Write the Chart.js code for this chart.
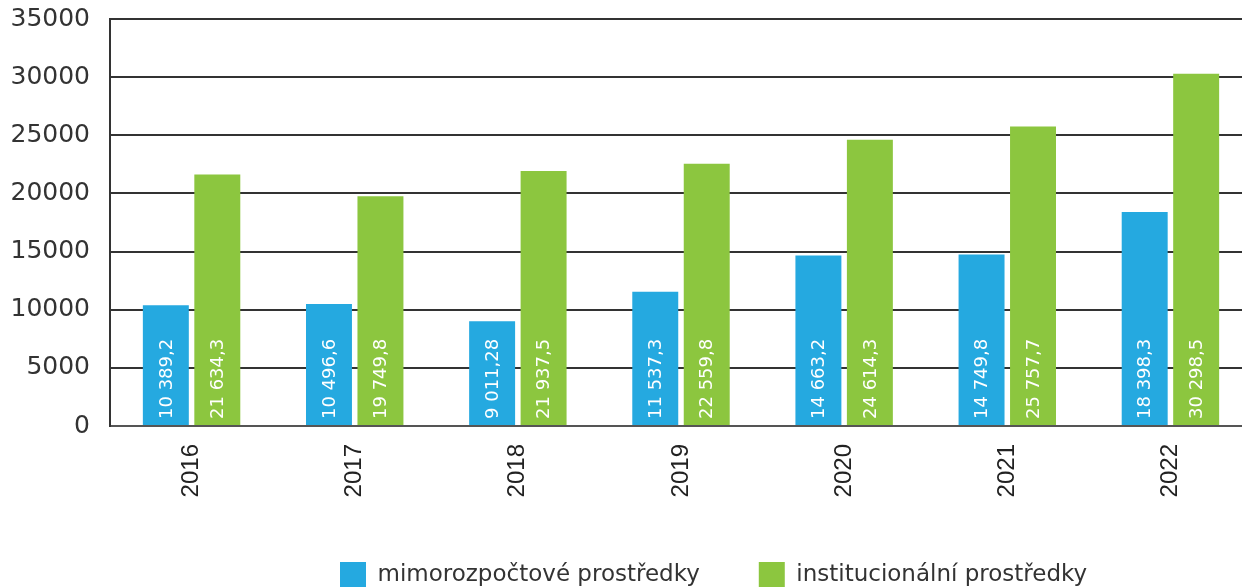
<!DOCTYPE html>
<html lang="cs">
<head>
    <meta charset="UTF-8">
    <title>Prostředky 2016–2022</title>
    <style>
        body { margin: 0; background: #fff; overflow: hidden; }
        .chart-container { width: 1242px; height: 587px; overflow: hidden; }
    </style>
    <script src="https://cdn.jsdelivr.net/npm/chart.js"></script>
</head>
<body>
    <div class="chart-container">
        <!-- a little wider than the page: the plot is cut at the right edge -->
        <canvas id="fundsChart" width="1254" height="587"></canvas>
    </div>

    <script>
        // Data
        const years = ['2016', '2017', '2018', '2019', '2020', '2021', '2022'];
        const mimorozpoctove = [10389.2, 10496.6, 9011.28, 11537.3, 14663.2, 14749.8, 18398.3];
        const institucionalni = [21634.3, 19749.8, 21937.5, 22559.8, 24614.3, 25757.7, 30298.5];
        const yTicks = [0, 5000, 10000, 15000, 20000, 25000, 30000, 35000];

        // 10389.2 -> "10 389,2"
        function czNumber(v) {
            const parts = String(v).split('.');
            const whole = parts[0].replace(/\B(?=(\d{3})+(?!\d))/g, ' ');
            return parts.length > 1 ? whole + ',' + parts[1] : whole;
        }

        // white rotated values inside the bars
        const barValues = {
            id: 'barValues',
            afterDatasetsDraw(chart) {
                const ctx = chart.ctx;
                ctx.save();
                ctx.fillStyle = '#ffffff';
                ctx.font = '18px "DejaVu Sans"';
                ctx.textAlign = 'left';
                ctx.textBaseline = 'middle';
                chart.data.datasets.forEach((ds, i) => {
                    chart.getDatasetMeta(i).data.forEach((bar, j) => {
                        ctx.save();
                        ctx.translate(bar.x, bar.base - 6);
                        ctx.rotate(-Math.PI / 2);
                        ctx.fillText(czNumber(ds.data[j]), 0, 1);
                        ctx.restore();
                    });
                });
                ctx.restore();
            }
        };

        // legend sits a bit right of centre in the original
        const legendShift = {
            id: 'legendShift',
            afterLayout(chart) {
                chart.legend.left = 340 - chart.options.plugins.legend.labels.padding;
            }
        };

        const ctx = document.getElementById('fundsChart').getContext('2d');
        const fundsChart = new Chart(ctx, {
            type: 'bar',
            data: {
                labels: years,
                datasets: [{
                    label: 'mimorozpočtové prostředky',
                    data: mimorozpoctove,
                    backgroundColor: '#25a9e0'
                }, {
                    label: 'institucionální prostředky',
                    data: institucionalni,
                    backgroundColor: '#8cc63f'
                }]
            },
            options: {
                responsive: false,
                animation: false,
                categoryPercentage: 0.631,
                barPercentage: 0.893,
                layout: { padding: { top: 19, right: 2, left: 0, bottom: 0 } },
                scales: {
                    x: {
                        grid: { display: false, drawTicks: false },
                        border: { color: '#555', width: 2 },
                        ticks: {
                            minRotation: 90,
                            maxRotation: 90,
                            padding: 18,
                            color: '#222',
                            font: { family: 'Liberation Sans', size: 24 }
                        },
                        afterFit(scale) {
                            scale.height = 77;
                            scale.paddingLeft = 0;
                            scale.paddingRight = 0;
                        }
                    },
                    y: {
                        min: 0,
                        max: 35000,
                        afterBuildTicks(scale) {
                            scale.ticks = yTicks.map(v => ({ value: v }));
                        },
                        grid: { color: '#333', lineWidth: 2, drawTicks: false },
                        border: { color: '#333', width: 2 },
                        ticks: {
                            padding: 20,
                            color: '#333',
                            font: { family: 'DejaVu Sans', size: 25 },
                            callback: v => String(v)
                        },
                        afterFit(scale) {
                            scale.width = 110;
                            scale.paddingTop = 0;
                            scale.paddingBottom = 0;
                        }
                    }
                },
                plugins: {
                    legend: {
                        position: 'bottom',
                        align: 'start',
                        maxHeight: 84,
                        labels: {
                            boxWidth: 26,
                            boxHeight: 26,
                            padding: 59,
                            color: '#333',
                            font: { family: 'DejaVu Sans', size: 23 }
                        }
                    },
                    tooltip: { enabled: false }
                }
            },
            plugins: [barValues, legendShift]
        });
    </script>
</body>
</html>
